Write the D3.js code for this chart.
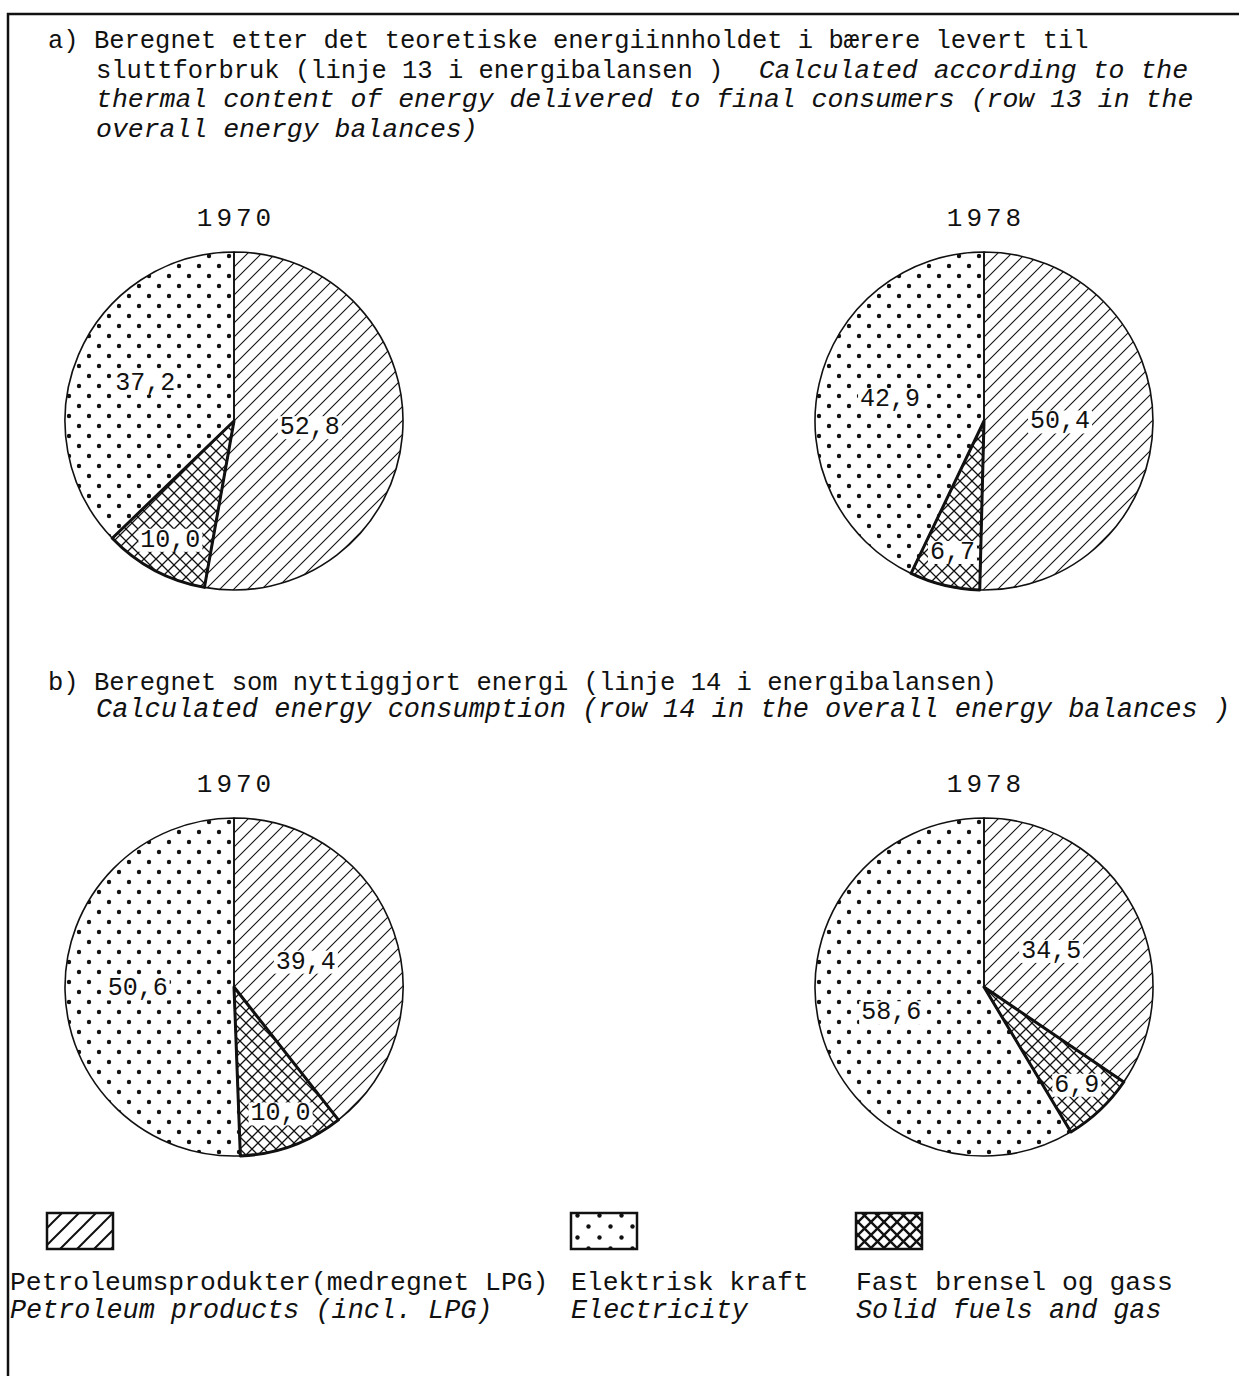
<!DOCTYPE html>
<html>
<head>
<meta charset="utf-8">
<script src="https://cdn.jsdelivr.net/npm/d3@7"></script>
<style>
  body { margin: 0; background: #fff; }
  text { font-family: "Liberation Mono", "DejaVu Sans Mono", monospace; fill: #111; }
  .it { font-style: italic; }
</style>
</head>
<body>
<div id="chart"></div>
<script>

// Panels and years
var panels = ["a", "b"];
var years = ["1970", "1978"];

// Energy carriers, in the order the slices run clockwise from twelve o'clock
var carriers = ["petroleum", "solid", "electricity"];

// Shares in per cent (a: thermal content, b: useful energy)
var sharesA1970 = [52.8, 10.0, 37.2];
var sharesA1978 = [50.4, 6.7, 42.9];
var sharesB1970 = [39.4, 10.0, 50.6];
var sharesB1978 = [34.5, 6.9, 58.6];

// Legend texts, in legend order
var legendKeys = ["petroleum", "electricity", "solid"];
var legendNorsk = ["Petroleumsprodukter(medregnet LPG)", "Elektrisk kraft", "Fast brensel og gass"];
var legendEnglish = ["Petroleum products (incl. LPG)", "Electricity", "Solid fuels and gas"];

// Heading texts: [text, italic, extra gap before]
var headA = [
  [["a) Beregnet etter det teoretiske energiinnholdet i bærere levert til", false, 0]],
  [["sluttforbruk (linje 13 i energibalansen ) ", false, 0], ["Calculated according to the", true, 20]],
  [["thermal content of energy delivered to final consumers (row 13 in the", true, 0]],
  [["overall energy balances)", true, 0]]
];
var headB = [
  [["b) Beregnet som nyttiggjort energi (linje 14 i energibalansen)", false, 0]],
  [["Calculated energy consumption (row 14 in the overall energy balances )", true, 0]]
];

var shares = {
  "a1970": sharesA1970, "a1978": sharesA1978,
  "b1970": sharesB1970, "b1978": sharesB1978
};

window.onload = function() {

  var svgW = 1239, svgH = 1376;
  var radius = 169;

  var svg = d3.select("#chart")
              .append("svg")
                .attr("width", svgW)
                .attr("height", svgH);

  // Patterns: hatch, dots and cross-hatch (one set for pies, one for legend boxes)
  var defs = svg.append("defs");
  make_patterns(defs, "", 14, 20, 12, 1.1, 1.3, 2.2);
  make_patterns(defs, "-leg", 17, 22, 13, 2, 2.4, 2.2);

  // Outer frame of the figure
  svg.append("path")
      .attr("d", "M8," + svgH + " L8,14 L" + svgW + ",14")
      .attr("fill", "none")
      .attr("stroke", "#111")
      .attr("stroke-width", 2.5);

  // Headings
  draw_heading(svg, headA, 48, 29.5, 26.5);
  draw_heading(svg, headB, 690, 27, 27);

  // Scales for pie positions
  var xScale = d3.scalePoint().domain(years).range([234, 984]);
  var yScale = d3.scalePoint().domain(panels).range([421, 987]);

  var fmt = d3.formatLocale({decimal: ",", thousands: " ", grouping: [3], currency: ["", ""]}).format(".1f");

  var pie = d3.pie().sort(null).value(function(d) { return d.value; });
  var arc = d3.arc().innerRadius(0).outerRadius(radius);
  var labelFactor = {petroleum: 0.45, solid: 0.8, electricity: 0.57};

  panels.forEach(function(p) {
    years.forEach(function(y) {
      var data = shares[p + y].map(function(v, i) {
        return {key: carriers[i], value: v};
      });
      var g = svg.append("g")
                 .attr("transform", "translate(" + xScale(y) + "," + yScale(p) + ")");

      // Year label
      g.append("text")
        .attr("x", 2)
        .attr("y", -radius - 26)
        .attr("text-anchor", "middle")
        .style("font-size", "26px")
        .style("letter-spacing", "4px")
        .text(y);

      var slices = pie(data);

      g.selectAll("path.slice")
        .data(slices)
        .enter()
        .append("path")
          .attr("class", "slice")
          .attr("d", arc)
          .attr("fill", function(d) { return "url(#pat-" + d.data.key + ")"; })
          .attr("stroke", "#111")
          .attr("stroke-width", 1.6)
          .attr("stroke-linejoin", "round");

      // Heavier outline around the solid fuels slice
      g.selectAll("path.solid")
        .data(slices.filter(function(d) { return d.data.key == "solid"; }))
        .enter()
        .append("path")
          .attr("d", arc)
          .attr("fill", "none")
          .attr("stroke", "#111")
          .attr("stroke-width", 3)
          .attr("stroke-linejoin", "round");

      // Value labels on a white knock-out box
      slices.forEach(function(d) {
        var f = labelFactor[d.data.key];
        var c = d3.arc().innerRadius(0).outerRadius(radius * 2 * f).centroid(d);
        var lab = g.append("g");
        var t = lab.append("text")
          .attr("x", c[0])
          .attr("y", c[1])
          .attr("text-anchor", "middle")
          .attr("dominant-baseline", "central")
          .style("font-size", "25px")
          .text(fmt(d.data.value));
        var bb = t.node().getBBox();
        lab.insert("rect", "text")
          .attr("x", bb.x - 2)
          .attr("y", bb.y + 3)
          .attr("width", bb.width + 4)
          .attr("height", bb.height - 6)
          .attr("fill", "#fff");
      });
    });
  });

  // Legend
  var legX = d3.scaleOrdinal().domain(legendKeys).range([47, 571, 856]);
  var legTextX = d3.scaleOrdinal().domain(legendKeys).range([10, 571, 856]);

  var leg = svg.append("g").attr("class", "legend");
  leg.selectAll("rect")
     .data(legendKeys)
     .enter()
     .append("rect")
       .attr("x", function(d) { return legX(d); })
       .attr("y", 1213)
       .attr("width", 66)
       .attr("height", 36)
       .attr("fill", function(d) { return "url(#pat-leg-" + d + ")"; })
       .attr("stroke", "#111")
       .attr("stroke-width", 2.5);

  leg.selectAll("text.no")
     .data(legendKeys)
     .enter()
     .append("text")
       .attr("class", "no")
       .attr("x", function(d) { return legTextX(d); })
       .attr("y", 1290)
       .style("font-size", "26.4px")
       .text(function(d, i) { return legendNorsk[i]; });

  leg.selectAll("text.en")
     .data(legendKeys)
     .enter()
     .append("text")
       .attr("class", "en it")
       .attr("x", function(d) { return legTextX(d); })
       .attr("y", 1318)
       .style("font-size", "26.8px")
       .text(function(d, i) { return legendEnglish[i]; });
};


function make_patterns(defs, suffix, hatchStep, dotStep, crossStep, hatchW, crossW, dotR) {

  // Diagonal hatch for petroleum products
  var h = defs.append("pattern")
              .attr("id", "pat" + suffix + "-petroleum")
              .attr("patternUnits", "userSpaceOnUse")
              .attr("width", hatchStep)
              .attr("height", hatchStep);
  h.append("path")
    .attr("d", "M" + (-hatchStep / 4) + "," + (hatchStep / 4) + " L" + (hatchStep / 4) + "," + (-hatchStep / 4) +
               " M0," + hatchStep + " L" + hatchStep + ",0" +
               " M" + (hatchStep * 3 / 4) + "," + (hatchStep * 5 / 4) + " L" + (hatchStep * 5 / 4) + "," + (hatchStep * 3 / 4))
    .attr("stroke", "#111")
    .attr("stroke-width", hatchW);

  // Staggered dots for electricity
  var d = defs.append("pattern")
              .attr("id", "pat" + suffix + "-electricity")
              .attr("patternUnits", "userSpaceOnUse")
              .attr("width", dotStep)
              .attr("height", dotStep);
  d.append("circle").attr("cx", dotStep / 4).attr("cy", dotStep / 4).attr("r", dotR).attr("fill", "#111");
  d.append("circle").attr("cx", dotStep * 3 / 4).attr("cy", dotStep * 3 / 4).attr("r", dotR).attr("fill", "#111");

  // Cross-hatch for solid fuels and gas
  var c = defs.append("pattern")
              .attr("id", "pat" + suffix + "-solid")
              .attr("patternUnits", "userSpaceOnUse")
              .attr("width", crossStep)
              .attr("height", crossStep);
  c.append("path")
    .attr("d", "M0,0 L" + crossStep + "," + crossStep + " M0," + crossStep + " L" + crossStep + ",0")
    .attr("stroke", "#111")
    .attr("stroke-width", crossW);
};


function draw_heading(svg, lines, y0, step, itSize) {
  lines.forEach(function(line, i) {
    var x = (i == 0) ? 48 : 96;
    var t = svg.append("text")
               .attr("x", x)
               .attr("y", y0 + i * step)
               .attr("xml:space", "preserve");
    line.forEach(function(part) {
      t.append("tspan")
        .attr("class", part[1] ? "it" : null)
        .attr("dx", part[2])
        .style("font-size", part[1] ? itSize + "px" : "25.5px")
        .text(part[0]);
    });
  });
};

</script>
</body>
</html>
